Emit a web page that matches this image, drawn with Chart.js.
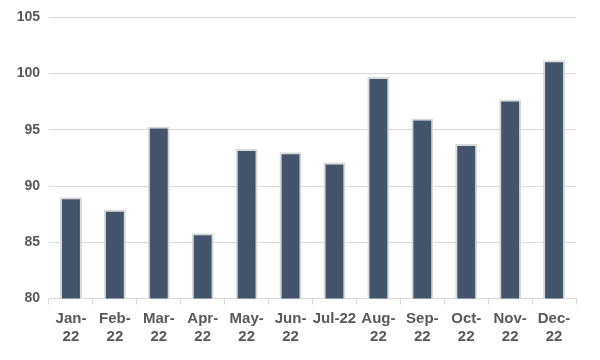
<!DOCTYPE html>
<html><head><meta charset="utf-8">
<script src="https://cdn.jsdelivr.net/npm/chart.js@4"></script>
<style>html,body{margin:0;padding:0;background:#fff}#w{width:600px;height:360px}</style>
</head><body><div id="w"><canvas id="c"></canvas></div>
<script>
const categories = [["Jan-","22"],["Feb-","22"],["Mar-","22"],["Apr-","22"],["May-","22"],["Jun-","22"],"Jul-22",["Aug-","22"],["Sep-","22"],["Oct-","22"],["Nov-","22"],["Dec-","22"]];
const values = [89.0, 87.9, 95.3, 85.8, 93.3, 93.0, 92.1, 99.7, 96.0, 93.75, 97.7, 101.2];
const yTicks = [80, 85, 90, 95, 100, 105];

new Chart(document.getElementById('c'), {
  type: 'bar',
  data: { labels: categories, datasets: [{ data: values, backgroundColor: '#44546A', borderColor: '#D9D9D9', borderWidth: 2, categoryPercentage: 1, barPercentage: 0.5 }] },
  options: {
    responsive: true, maintainAspectRatio: false, animation: false,
    layout: { padding: { left: 0, right: 24, top: 13, bottom: 9 } },
    plugins: { legend: { display: false }, tooltip: { enabled: false } },
    scales: {
      x: {
        grid: { display: true, drawOnChartArea: false, offset: true, color: '#D9D9D9', tickLength: 6 },
        border: { color: '#D9D9D9', width: 1 },
        ticks: { color: '#595959', font: { family: 'Liberation Sans, Arial', size: 15, weight: 'bold', lineHeight: 1.15 }, maxRotation: 0, autoSkip: false, padding: 6 }
      },
      y: {
        min: 80, max: 105,
        afterFit: s => { s.width = 49; },
        afterBuildTicks: s => { s.ticks = yTicks.map(v => ({ value: v })); },
        grid: { color: '#D9D9D9', drawTicks: false },
        border: { display: false },
        ticks: { color: '#595959', font: { family: 'Liberation Sans, Arial', size: 14, weight: 'bold' }, padding: 9 }
      }
    }
  }
});
</script></body></html>
